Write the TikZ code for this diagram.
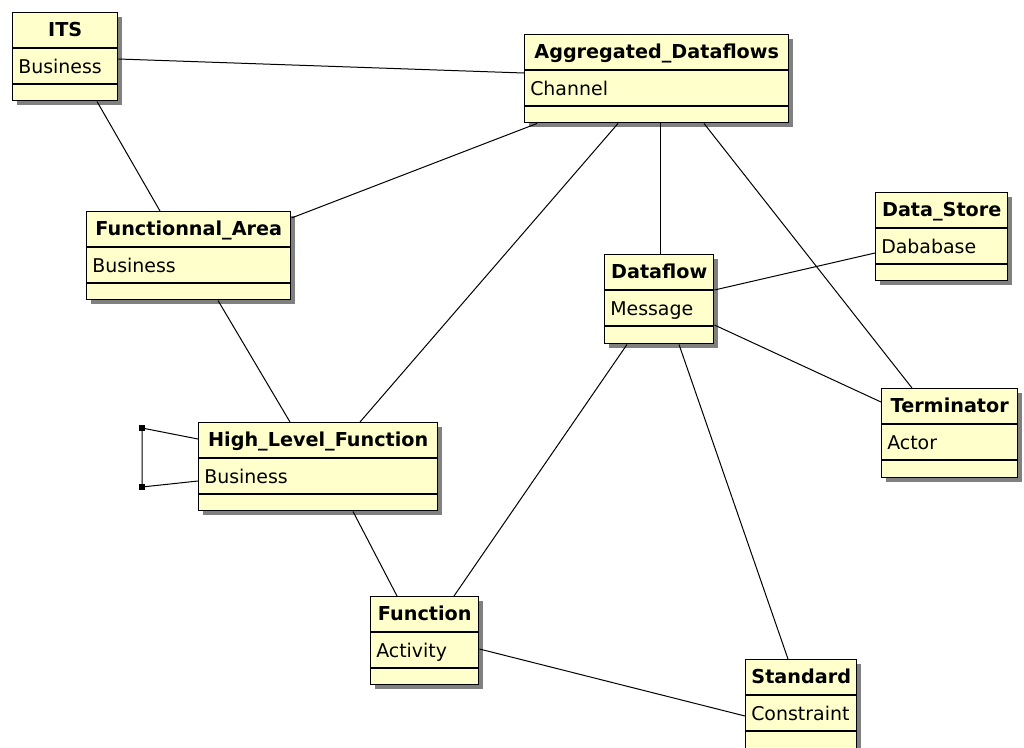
\documentclass[tikz,border=0pt]{standalone}
\usepackage{fontspec}
\setmainfont{DejaVu Sans}
\usetikzlibrary{calc}
\definecolor{umlyellow}{RGB}{255,255,204}
\definecolor{umlshadow}{RGB}{128,128,128}
\tikzset{
  classbox/.style={draw=black, line width=1.1pt, fill=umlyellow, inner sep=0pt, anchor=north west},
  classshadow/.style={fill=umlshadow},
  divider/.style={draw=black, line width=1.1pt},
  classtitle/.style={font=\fontsize{14.4}{16}\selectfont\bfseries, anchor=base, inner sep=0pt},
  classattr/.style={font=\fontsize{14.2}{16}\selectfont, anchor=base west, inner sep=0pt},
  assoc/.style={draw=black, line width=0.75pt},
  loopdot/.style={fill=black, rectangle, minimum size=3.8pt, inner sep=0pt}
}
\newcommand\umlclass[7]{%
  \pgfmathsetmacro\umlW{(#4-#2)*0.75}%
  \pgfmathsetmacro\umlH{(#5-#3)*0.75}%
  \fill[classshadow] (#2+5,#3+5) rectangle (#4+5,#5+5);
  \node[classbox, minimum width=\umlW pt, minimum height=\umlH pt] (#1) at (#2,#3) {};
  \draw[divider] ([yshift=-27pt]#1.north west) -- ([yshift=-27pt]#1.north east);
  \draw[divider] ([yshift=-54pt]#1.north west) -- ([yshift=-54pt]#1.north east);
  \node[classtitle] (#1-title) at ([yshift=-18pt]#1.north) {#6};
  \node[classattr] (#1-attr) at ([xshift=4.5pt,yshift=-45.75pt]#1.north west) {#7};
}
\begin{document}
\begin{tikzpicture}[x=0.75pt,y=-0.75pt]
  \useasboundingbox[fill=white] (0,0) rectangle (1024,747);

  \umlclass{ITS}{12}{12}{117}{100}{ITS}{Business}
  \umlclass{AGG}{524}{34}{788}{122}{Aggregated\_Dataflows}{Channel}
  \umlclass{FA}{86}{211}{290}{299}{Functionnal\_Area}{Business}
  \umlclass{DS}{875}{192}{1007}{280}{Data\_Store}{Dababase}
  \umlclass{DF}{604}{254}{713}{343}{Dataflow}{Message}
  \umlclass{TERM}{881}{388}{1017}{477}{Terminator}{Actor}
  \umlclass{HLF}{198}{422}{437}{510}{High\_Level\_Function}{Business}
  \umlclass{FN}{370}{596}{478}{684}{Function}{Activity}
  \umlclass{STD}{745}{659}{856}{751}{Standard}{Constraint}

  \draw[assoc] (ITS.east |- 0,59) -- (AGG.west |- 0,73);
  \draw[assoc] (ITS.south -| 97,0) -- (FA.north -| 160,0);
  \draw[assoc] (FA.east |- 0,218) -- (AGG.south -| 537,0);
  \draw[assoc] (AGG.south -| 618,0) -- (HLF.north -| 360,0);
  \draw[assoc] (AGG.south -| 660,0) -- (DF.north -| 660,0);
  \draw[assoc] (AGG.south -| 704,0) -- (TERM.north -| 912,0);
  \draw[assoc] (DF.east |- 0,290) -- (DS.west |- 0,253);
  \draw[assoc] (DF.east |- 0,325) -- (TERM.west |- 0,402);
  \draw[assoc] (DF.south -| 627,0) -- (FN.north -| 454,0);
  \draw[assoc] (DF.south -| 679,0) -- (STD.north -| 788,0);
  \draw[assoc] (FA.south -| 218,0) -- (HLF.north -| 290,0);
  \draw[assoc] (HLF.south -| 353,0) -- (FN.north -| 397,0);
  \draw[assoc] (FN.east |- 0,649) -- (STD.west |- 0,716);

  \coordinate (L1) at (142,428);
  \coordinate (L2) at (142,487);
  \draw[assoc] (HLF.west |- 0,439) -- (L1) -- (L2) -- (HLF.west |- 0,481);
  \node[loopdot] (L1dot) at (L1) {};
  \node[loopdot] (L2dot) at (L2) {};
\end{tikzpicture}
\end{document}
